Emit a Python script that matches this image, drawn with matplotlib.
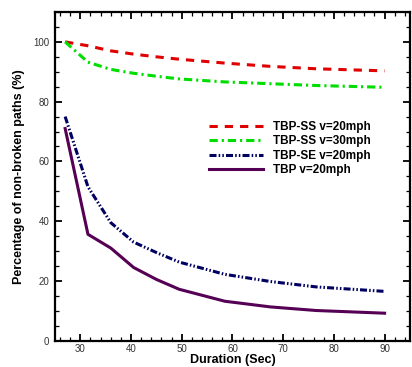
import matplotlib
matplotlib.use("Agg")
import matplotlib.pyplot as plt
from matplotlib.ticker import MultipleLocator

plt.rcParams['font.family'] = ['Liberation Sans', 'DejaVu Sans']

# Durations (sec) and percentage of non-broken paths
duration = [27, 31.5, 36, 40.5, 45, 49.5, 58.5, 67.5, 76.5, 90]
ss_20 = [100, 98.7, 97.0, 95.9, 95.0, 94.2, 92.9, 91.8, 91.0, 90.3]
ss_30 = [100, 93.2, 90.8, 89.5, 88.5, 87.6, 86.6, 86.0, 85.4, 84.8]
se_20 = [75, 51.5, 39.5, 33.0, 29.5, 26.3, 22.2, 19.8, 18.0, 16.5]
tbp_20 = [71, 35.6, 31.0, 24.5, 20.5, 17.2, 13.2, 11.3, 10.1, 9.2]

labels = ["TBP-SS v=20mph", "TBP-SS v=30mph", "TBP-SE v=20mph", "TBP v=20mph"]

fig = plt.figure(figsize=(4.12, 3.67), dpi=100)
ax = fig.add_axes([0.1335, 0.0717, 0.8615, 0.8956])

ax.plot(duration, ss_20, color="#e00000", lw=2.2, dashes=(2.7, 2.3), label=labels[0])
ax.plot(duration, ss_30, color="#00dd00", lw=2.2, dashes=(2.7, 1.3, 0.7, 1.3), label=labels[1])
ax.plot(duration, se_20, color="#000060", lw=2.2, dashes=(2.3, 0.7, 0.5, 0.7, 0.5, 0.7), label=labels[2])
ax.plot(duration, tbp_20, color="#550055", lw=2.2, label=labels[3])

ax.set_xlim(25, 95)
ax.set_ylim(0, 110)
ax.xaxis.set_minor_locator(MultipleLocator(2))
ax.yaxis.set_major_locator(MultipleLocator(20))
ax.yaxis.set_minor_locator(MultipleLocator(5))
ax.set_xticks([30, 40, 50, 60, 70, 80, 90])
ax.tick_params(which="both", direction="in", top=True, right=True, labelsize=7,
               colors="black", labelcolor="#333333")
ax.tick_params(which="major", length=5, width=1.3)
ax.tick_params(which="minor", length=3, width=0.9)
ax.tick_params(axis="x", which="major", pad=2.5)
ax.tick_params(axis="y", which="major", pad=4)
for s in ax.spines.values():
    s.set_linewidth(1.6)

ax.set_xlabel("Duration (Sec)", fontsize=9, fontweight="bold", labelpad=0)
ax.set_ylabel("Percentage of non-broken paths (%)", fontsize=9, fontweight="bold", labelpad=6)

ax.legend(loc="upper left", bbox_to_anchor=(0.434, 0.668), frameon=False,
          prop={"size": 8.5, "weight": "bold"}, handlelength=4.6, handletextpad=0.85,
          labelspacing=0.2, borderpad=0, borderaxespad=0)

fig.savefig("out.png", dpi=100)
